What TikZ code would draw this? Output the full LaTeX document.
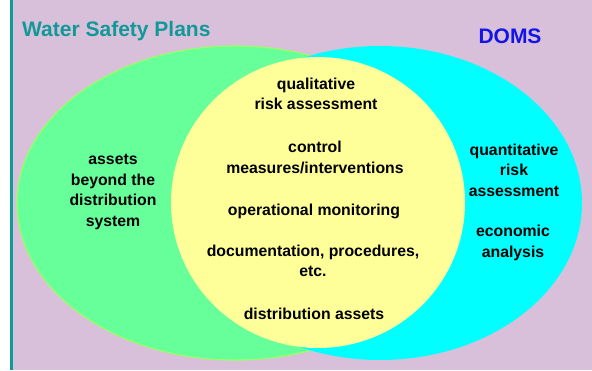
\documentclass[tikz,border=0pt]{standalone}
\usepackage{fontspec}
\setmainfont{Liberation Sans}
\definecolor{lav}{HTML}{D8C0DB}
\definecolor{tealline}{HTML}{109A9A}
\definecolor{titleteal}{HTML}{119999}
\definecolor{domsblue}{HTML}{1414E6}
\definecolor{grfill}{HTML}{66FF99}
\definecolor{grline}{HTML}{99FF66}
\definecolor{cyfill}{HTML}{00FFFF}
\definecolor{yefill}{HTML}{FFFF99}
\begin{document}
\begin{tikzpicture}[x=1pt,y=-1pt,
  lbl/.style={align=center,font=\fontsize{15.8}{20.5}\selectfont\bfseries,inner sep=0pt},
  ttl/.style={font=\fontsize{21}{24}\selectfont\bfseries,inner sep=0pt}]
\useasboundingbox (0,0) rectangle (592,370);
\fill[white] (0,0) rectangle (592,370);
\fill[lav] (11.5,0) rectangle (592,370);
\fill[tealline] (10,0) rectangle (13,370);
% ellipses
\path[fill=grfill,draw=grline,line width=1.2pt] (235,203) ellipse [x radius=218,y radius=157];
\path[fill=cyfill] (380,203) ellipse [x radius=202,y radius=157];
\path[fill=yefill] (318,202.5) ellipse [x radius=147,y radius=145.5];
% titles
\node[ttl,text=titleteal,anchor=west] (wsp) at (22,31) {Water Safety Plans};
\node[ttl,text=domsblue] (doms) at (510,36) {DOMS};
% center texts
\node[lbl] (qual) at (316,94) {qualitative\\risk assessment};
\node[lbl] (ctrl) at (315,157.5) {control\\measures/interventions};
\node[lbl] (opm) at (314,211) {operational monitoring};
\node[lbl] (doc) at (313,261) {documentation, procedures,\\etc.};
\node[lbl] (dist) at (314,314) {distribution assets};
% left texts
\node[lbl] (asb) at (113,192) {assets\\beyond the\\distribution\\system};
% right texts
\node[lbl] (qra) at (514,170) {quantitative\\risk\\assessment};
\node[lbl] (eco) at (513,243) {economic\\analysis};
\end{tikzpicture}
\end{document}
